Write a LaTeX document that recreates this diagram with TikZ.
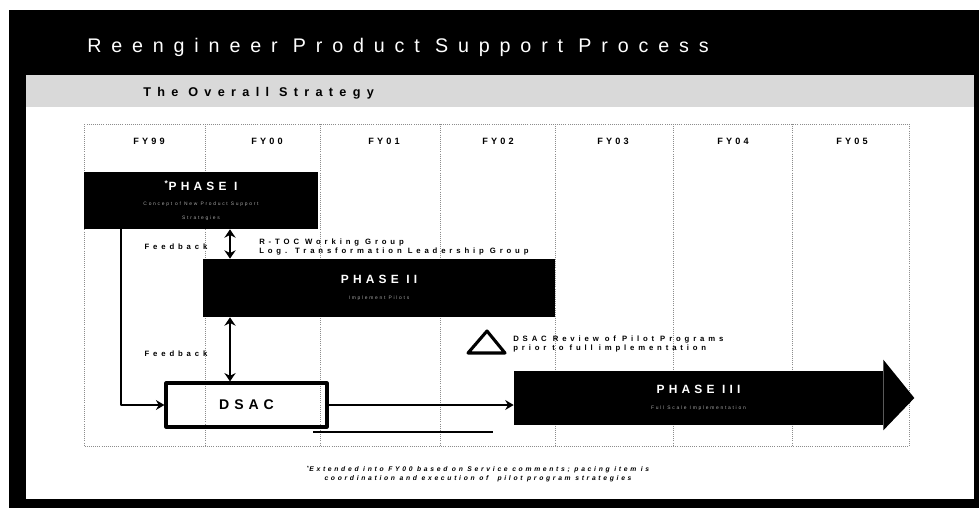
\documentclass[tikz,border=0pt]{standalone}
\usepackage{fontspec}
\setmainfont{Liberation Sans}
\newfontfamily\titlefont[LetterSpace=50]{Liberation Sans}
\newfontfamily\widefont[LetterSpace=50]{Liberation Sans}
\newfontfamily\boxfont[LetterSpace=35]{Liberation Sans}
\newfontfamily\notefont[LetterSpace=40]{Liberation Sans}
\usetikzlibrary{positioning, arrows.meta}
\definecolor{band_gray}{gray}{0.85}
\definecolor{grid_gray}{gray}{0.55}
\newcommand{\subline}[1]{{\fontsize{3.5}{5}\selectfont\mdseries\color{gray!70}#1}}

\begin{document}
\begin{tikzpicture}[x=0.025cm, y=-0.025cm, line join=round,
    phasebox/.style={fill=black, text=white, inner sep=0pt, align=center,
      font=\boxfont\fontsize{8.5}{10}\selectfont\bfseries},
    label/.style={inner sep=0pt, font=\widefont\fontsize{5.5}{7}\selectfont\bfseries},
    grid/.style={grid_gray, densely dotted, line width=0.5pt},
    tip/.style={-{Stealth[length=6pt,width=7pt]}, line width=1.3pt},
    dbl/.style={{Stealth[length=6pt,width=8pt]}-{Stealth[length=6pt,width=8pt]}, line width=1.3pt}]
    \useasboundingbox (0,0) rectangle (979,508);
    % frame and bands
    \fill[white] (0,0) rectangle (979,508);
    \fill[black] (9,10) rectangle (979,508);
    \fill[white] (26,75) rectangle (974,499);
    \fill[band_gray] (26,75) rectangle (974,107);
    \node[anchor=west, text=white, inner sep=0pt, font=\titlefont\fontsize{14}{16}\selectfont] (title) at (87,47) {Reengineer Product Support Process};
    \node[anchor=west, inner sep=0pt, font=\widefont\fontsize{9}{11}\selectfont\bfseries] (strategy) at (143,93) {The Overall Strategy};

    % year columns
    \draw[grid] (84,124) rectangle (909,446);
    \foreach \x in {205, 320, 440, 555, 673, 792}
        \draw[grid] (\x,124) -- (\x,446);
    \foreach \x/\yr in {149/99, 267/00, 384/01, 498/02, 613/03, 733/04, 852/05}
        \node[label, font=\boxfont\fontsize{6.5}{8}\selectfont\bfseries] (fy\yr) at (\x,141) {FY\yr};

    % phases
    \node[phasebox, minimum width=5.85cm, minimum height=1.425cm] (phaseI) at (201,200.5)
        {\textsuperscript{*}PHASE I\\[1pt]\subline{Concept of New Product Support}\\\subline{Strategies}};
    \node[phasebox, minimum width=8.8cm, minimum height=1.45cm] (phaseII) at (379,288)
        {PHASE II\\[1pt]\subline{Implement Pilots}};
    \node[phasebox, minimum width=9.225cm, minimum height=1.35cm] (phaseIII) at (698.5,398)
        {PHASE III\\[1pt]\subline{Full Scale Implementation}};
    \fill[black] ([yshift=0.275cm]phaseIII.north east) -- ([xshift=0.775cm]phaseIII.east)
        -- ([yshift=-0.125cm]phaseIII.south east) -- cycle;
    \node[draw, line width=2.2pt, inner sep=0pt, minimum width=4.025cm, minimum height=1.1cm,
        font=\boxfont\fontsize{10}{12}\selectfont\bfseries] (dsac) at (246.5,405) {DSAC};

    % feedback
    \coordinate (fbx) at (230,0);
    \draw[dbl] (phaseI.south -| fbx) -- (phaseII.north -| fbx);
    \draw[dbl] (phaseII.south -| fbx) -- (dsac.north -| fbx);
    \node[label] (feedbackI) at (176,247) {Feedback};
    \node[label] (feedbackII) at (176,354) {Feedback};
    \node[label, anchor=west, align=left] (groups) at (259,247)
        {R-TOC Working Group\\Log. Transformation Leadership Group};
    \draw[tip] ([xshift=0.925cm]phaseI.south west) |- (dsac.west);
    \draw[tip] (dsac.east) -- (dsac.east -| phaseIII.west);
    \draw[line width=1.6pt] (313,432) -- (493,432);

    % review
    \draw[line width=2.2pt] (468,353) -- (487,331) -- (505,353) -- cycle;
    \node[label, anchor=west, align=left] (review) at (513,344)
        {DSAC Review of Pilot Programs\\prior to full implementation};

    \node[inner sep=0pt, align=center, font=\notefont\fontsize{4.8}{6.4}\selectfont\bfseries\itshape] (note) at (478,474)
        {\textsuperscript{*}Extended into FY00 based on Service comments; pacing item is\\coordination and execution of \ pilot program strategies};
\end{tikzpicture}
\end{document}
